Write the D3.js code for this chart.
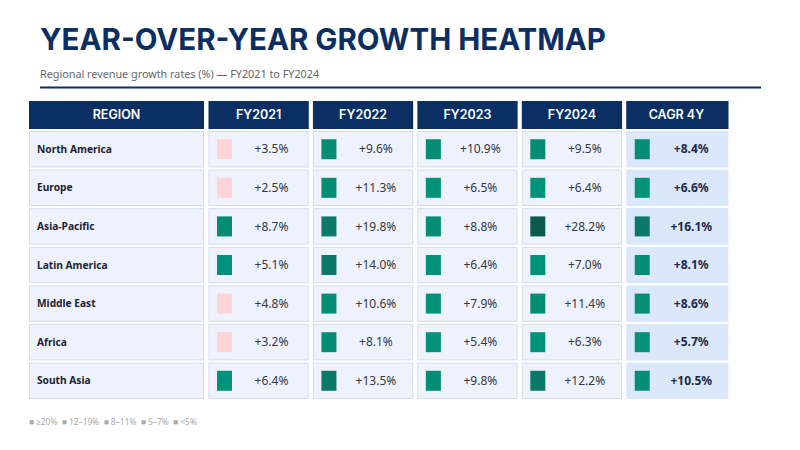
<!DOCTYPE html>
<html>
<head>
<meta charset="utf-8">
<script src="https://cdn.jsdelivr.net/npm/d3@7"></script>
<style>
  body { margin: 0; background: #fff; }
  svg { display: block; }
</style>
</head>
<body>
<svg id="chart" width="800" height="450"></svg>
<script>
// Growth figures (%)
const regions = ['North America', 'Europe', 'Asia-Pacific', 'Latin America', 'Middle East', 'Africa', 'South Asia'];
const columns = ['FY2021', 'FY2022', 'FY2023', 'FY2024', 'CAGR 4Y'];
const fy2021 = [3.5, 2.5, 8.7, 5.1, 4.8, 3.2, 6.4];
const fy2022 = [9.6, 11.3, 19.8, 14.0, 10.6, 8.1, 13.5];
const fy2023 = [10.9, 6.5, 8.8, 6.4, 7.9, 5.4, 9.8];
const fy2024 = [9.5, 6.4, 28.2, 7.0, 11.4, 6.3, 12.2];
const cagr = [8.4, 6.6, 16.1, 8.1, 8.6, 5.7, 10.5];
const legendLabels = ['≥20%', '12–19%', '8–11%', '5–7%', '<5%'];

const series = [fy2021, fy2022, fy2023, fy2024, cagr];

const svg = d3.select('#chart');
const navy = '#0b2f63';
const font = '"Noto Sans", sans-serif';

// color buckets
const color = d3.scaleThreshold()
  .domain([5, 8, 12, 20])
  .range(['#ffd4d7', '#01937a', '#038d75', '#0b7868', '#0a5a4d']);

// title + subtitle
svg.append('text')
  .attr('x', 40).attr('y', 50)
  .attr('font-family', 'Inter, sans-serif')
  .attr('font-weight', 700)
  .attr('font-size', 29.5)
  .attr('fill', navy)
  .text('YEAR-OVER-YEAR GROWTH HEATMAP');

svg.append('text')
  .attr('x', 40).attr('y', 78)
  .attr('font-family', font)
  .attr('font-size', 10.8)
  .attr('fill', '#666')
  .text('Regional revenue growth rates (%) — FY2021 to FY2024');

svg.append('line')
  .attr('x1', 40).attr('x2', 761)
  .attr('y1', 87.5).attr('y2', 87.5)
  .attr('stroke', navy).attr('stroke-width', 2);

// scales
const x = d3.scaleBand()
  .domain(columns)
  .range([208.5, 726.5])
  .paddingInner(0.04);

const regionX = 29, regionW = 175;
const headerY = 101, headerH = 28;

const y = d3.scaleBand()
  .domain(regions)
  .range([131, 399])
  .paddingInner(0.055);

// header row
const header = svg.append('g');
header.append('rect')
  .attr('x', regionX).attr('y', headerY)
  .attr('width', regionW).attr('height', headerH)
  .attr('fill', navy);
header.append('text')
  .attr('x', regionX + regionW / 2).attr('y', headerY + headerH / 2)
  .attr('dy', '0.35em')
  .attr('text-anchor', 'middle')
  .attr('font-family', 'Inter, sans-serif')
  .attr('font-weight', 600).attr('font-size', 12.5)
  .attr('fill', '#fff')
  .text('REGION');

header.selectAll('.col-head')
  .data(columns)
  .join('rect')
  .attr('class', 'col-head')
  .attr('x', d => x(d))
  .attr('y', headerY)
  .attr('width', d => x.bandwidth() + (d === 'CAGR 4Y' ? 2 : 0))
  .attr('height', headerH)
  .attr('fill', navy);

header.selectAll('.col-label')
  .data(columns)
  .join('text')
  .attr('class', 'col-label')
  .attr('x', d => x(d) + x.bandwidth() / 2)
  .attr('y', headerY + headerH / 2)
  .attr('dy', '0.35em')
  .attr('text-anchor', 'middle')
  .attr('font-family', 'Inter, sans-serif')
  .attr('font-weight', 600).attr('font-size', 12.5)
  .attr('fill', '#fff')
  .text(d => d);

// region cells
const rows = svg.append('g');
rows.selectAll('.region-cell')
  .data(regions)
  .join('rect')
  .attr('class', 'region-cell')
  .attr('x', regionX + 0.5).attr('y', d => y(d) + 0.5)
  .attr('width', regionW - 1).attr('height', y.bandwidth() - 1)
  .attr('fill', '#eef2fc')
  .attr('stroke', '#d5dcec');

rows.selectAll('.region-label')
  .data(regions)
  .join('text')
  .attr('class', 'region-label')
  .attr('x', regionX + 8)
  .attr('y', d => y(d) + y.bandwidth() / 2)
  .attr('dy', '0.35em')
  .attr('font-family', font)
  .attr('font-weight', 700).attr('font-size', 10.2)
  .attr('fill', '#1c2233')
  .text(d => d);

// value cells
const cells = [];
columns.forEach((c, ci) => {
  regions.forEach((r, ri) => {
    cells.push({ col: c, region: r, value: series[ci][ri], cagr: c === 'CAGR 4Y' });
  });
});

const cell = svg.append('g')
  .selectAll('g')
  .data(cells)
  .join('g')
  .attr('transform', d => `translate(${x(d.col)},${y(d.region)})`);

cell.append('rect')
  .attr('x', 0.5).attr('y', 0.5)
  .attr('width', d => x.bandwidth() - 1 + (d.cagr ? 2 : 0))
  .attr('height', y.bandwidth() - 1)
  .attr('fill', d => d.cagr ? '#dbe7fb' : '#eef2fc')
  .attr('stroke', d => d.cagr ? '#dbe7fb' : '#d5dcec');

cell.append('rect')
  .attr('x', 8.5)
  .attr('y', y.bandwidth() / 2 - 10)
  .attr('width', 15).attr('height', 20)
  .attr('fill', d => color(d.value));

cell.append('text')
  .attr('x', d => d.cagr ? 65 : 63)
  .attr('y', y.bandwidth() / 2)
  .attr('dy', '0.35em')
  .attr('text-anchor', 'middle')
  .attr('font-family', font)
  .attr('font-weight', d => d.cagr ? 700 : 400)
  .attr('font-size', 12)
  .attr('fill', d => d.cagr ? '#1c2a4a' : '#333844')
  .text(d => '+' + d3.format('.1f')(d.value) + '%');

// legend
const legend = svg.append('text')
  .attr('x', 29).attr('y', 425)
  .attr('font-family', font)
  .attr('font-size', 8.4)
  .attr('fill', '#aaa');

legend.selectAll('tspan')
  .data(legendLabels)
  .join('tspan')
  .text((d, i) => (i ? '  ' : '') + '■ ' + d)
  .attr('xml:space', 'preserve');
</script>
</body>
</html>
